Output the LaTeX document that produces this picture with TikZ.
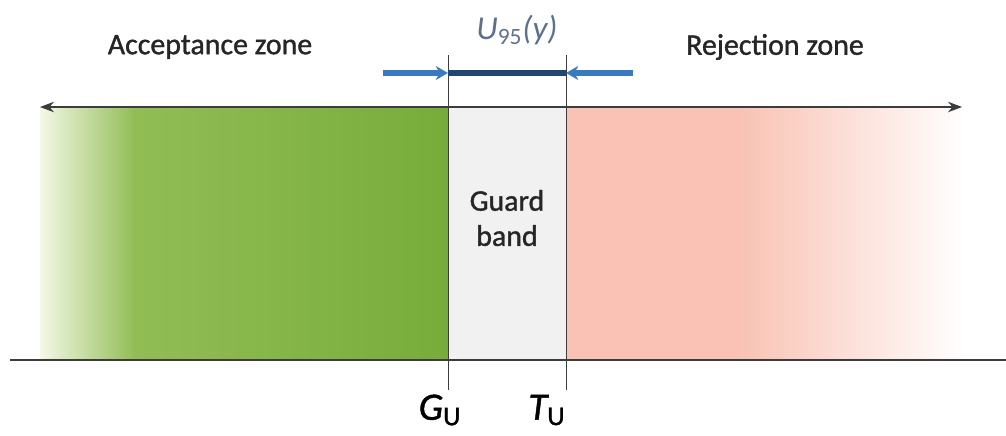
\documentclass[tikz,border=0pt]{standalone}
\usepackage{fontspec}
\setmainfont{Carlito}
\usepackage{xcolor}
\usepackage{tikz}
\usetikzlibrary{arrows.meta, positioning, calc}
\definecolor{ink}{HTML}{3C3C3C}
\definecolor{accgreen}{HTML}{77AC3A}
\definecolor{accgreenlt}{HTML}{92BD56}
\definecolor{accpale}{HTML}{F4F8E6}
\definecolor{rejred}{HTML}{F9C2B4}
\definecolor{guardgrey}{HTML}{F1F1F1}
\definecolor{ublue}{HTML}{3A7BC0}
\definecolor{udark}{HTML}{22476F}
\definecolor{ulabel}{HTML}{5A7290}

\begin{document}
\begin{tikzpicture}[x=0.2mm,y=-0.2mm,
  zonelabel/.style={font=\fontsize{17}{20}\selectfont\addfontfeature{FakeBold=1.2}, text=black!85},
  limitlabel/.style={font=\fontsize{22}{24}\selectfont\itshape\addfontfeature{FakeBold=1.2}, text=black}]
\useasboundingbox (0,0) rectangle (1006,435);
% zones
\shade[left color=accpale, right color=accgreenlt] (40,107) rectangle (135,360);
\shade[left color=accgreenlt, right color=accgreen] (134,107) rectangle (448,360);
\fill[guardgrey] (448,107) rectangle (566,360);
\fill[rejred] (566,107) rectangle (740,360);
\shade[left color=rejred, right color=white] (739,107) rectangle (965,360);
% axis lines
\draw[ink, thick, {Stealth[length=8pt,width=6pt]}-{Stealth[length=8pt,width=6pt]}] (40,107) -- (962,107);
\draw[ink, thick] (10,360) -- (1006,360);
% limits
\coordinate (gtop) at (448,55);
\coordinate (ttop) at (566,55);
\draw[ink] (gtop) -- (448,390);
\draw[ink] (ttop) -- (566,390);
% uncertainty interval
\coordinate (uleft) at (383,73);
\coordinate (gmid) at (448,73);
\coordinate (tmid) at (566,73);
\coordinate (uright) at (633,73);
\draw[ublue, line width=3pt, -{Stealth[length=7pt,width=8pt]}] (uleft) -- (gmid);
\draw[ublue, line width=3pt, -{Stealth[length=7pt,width=8pt]}] (uright) -- (tmid);
\draw[udark, line width=3.5pt] (gmid) -- (tmid);
\node[text=ulabel, font=\fontsize{19}{22}\selectfont] (ulab) at (517,30) {\textit{U}\textsubscript{95}\textit{(y)}};
% labels
\node[zonelabel] (acc) at (210,47) {Acceptance zone};
\node[zonelabel] (rej) at (775,47) {Rejection zone};
\node[zonelabel, align=center] (guard) at (507,218) {Guard\\band};
\node[limitlabel] (glab) at (440,410) {G\textsubscript{\upshape U}};
\node[limitlabel] (tlab) at (547,410) {T\textsubscript{\upshape U}};
\end{tikzpicture}
\end{document}
